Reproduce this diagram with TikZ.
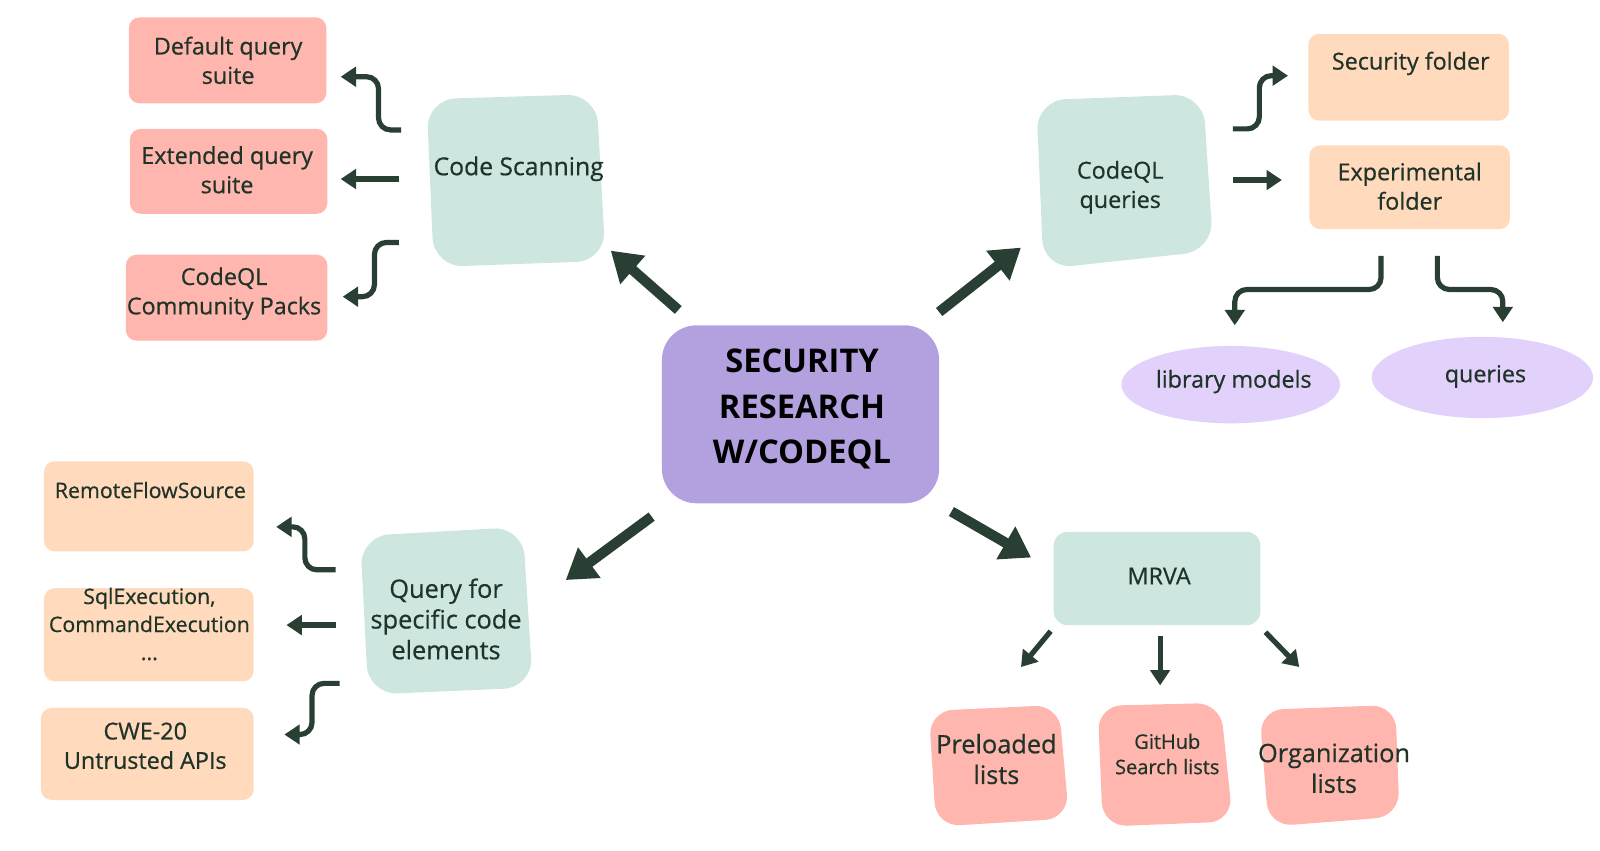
\documentclass[tikz,border=0pt]{standalone}
\usepackage{fontspec}
\setmainfont{Open Sans}
\newfontfamily\lblfont[FakeBold=0.6]{Open Sans}
\usetikzlibrary{arrows.meta,shapes.geometric,fit}
\definecolor{pinkc}{HTML}{FFB6AE}
\definecolor{peach}{HTML}{FFDABD}
\definecolor{mint}{HTML}{CDE6DF}
\definecolor{lav}{HTML}{B3A1DF}
\definecolor{lilac}{HTML}{E1D1FB}
\definecolor{ink}{HTML}{2A3F33}
\definecolor{txt}{HTML}{1F3328}
\tikzset{
  box/.style={inner sep=0pt, draw=none, rounded corners=8pt},
  pinkbox/.style={box, fill=pinkc},
  peachbox/.style={box, fill=peach},
  mintbox/.style={box, fill=mint, rounded corners=10pt},
  area/.style={inner sep=0pt, draw=none},
  centerbox/.style={box, fill=lav, rounded corners=26pt},
  oval/.style={ellipse, fill=lilac, inner sep=0pt},
  lbl/.style={text=txt, align=center, inner sep=0pt, font=\lblfont\fontsize{17.5}{22}\selectfont},
  biglbl/.style={text=black, align=center, inner sep=0pt, font=\bfseries\fontsize{24.5}{34}\selectfont},
  arr/.style={draw=ink, line width=3.9pt, rounded corners=9pt, -{Triangle[width=14.5pt,length=11.5pt]}},
  bigarr/.style={draw=ink, line width=7.7pt, -{Triangle[width=27pt,length=22pt]}},
}
\begin{document}
\begin{tikzpicture}[x=0.767pt,y=-0.767pt]
\useasboundingbox (0,0) rectangle (1564,831);
% irregular blobs
\fill[mint, rounded corners=22pt] (417,97) -- (583,92) -- (592,255) -- (424,261) -- cycle;
\fill[mint, rounded corners=22pt] (1013,98) -- (1176,92) -- (1186,245) -- (1020,263) -- cycle;
\fill[mint, rounded corners=22pt] (352,524) -- (511,515) -- (521,672) -- (360,679) -- cycle;
\fill[pinkc, rounded corners=18pt] (908,695) -- (1035,689) -- (1045,800) -- (915,808) -- cycle;
\fill[pinkc, rounded corners=18pt] (1073,690) -- (1193,687) -- (1205,803) -- (1078,808) -- cycle;
\fill[pinkc, rounded corners=18pt] (1231,694) -- (1364,689) -- (1368,798) -- (1240,808) -- cycle;
% shapes
\node[pinkbox, fit={(126,17)(319,101)}] (def) {};
\node[pinkbox, fit={(127,126)(320,209)}] (ext) {};
\node[pinkbox, fit={(123,249)(320,333)}] (com) {};
\node[area, fit={(417,93)(592,261)}] (cs) {};
\node[centerbox, fit={(647,318)(918,492)}] (ctr) {};
\node[area, fit={(1013,92)(1186,263)}] (cq) {};
\node[peachbox, fit={(1279,33)(1475,118)}] (sec) {};
\node[peachbox, fit={(1280,142)(1476,224)}] (exp) {};
\node[oval, minimum width=164pt, minimum height=58pt] (lib) at (1203,376) {};
\node[oval, minimum width=166pt, minimum height=61pt] (qry) at (1449,369) {};
\node[peachbox, fit={(43,451)(248,539)}] (rfs) {};
\node[peachbox, fit={(43,575)(248,666)}] (sql) {};
\node[peachbox, fit={(40,692)(248,782)}] (cwe) {};
\node[area, fit={(352,515)(521,679)}] (qsc) {};
\node[mintbox, fit={(1030,520)(1232,611)}] (mrva) {};
\node[area, fit={(908,690)(1045,808)}] (pre) {};
\node[area, fit={(1073,688)(1205,808)}] (gh) {};
\node[area, fit={(1231,690)(1368,808)}] (org) {};
% labels
\node[lbl] (tdef) at (223,59) {Default query\\suite};
\node[lbl] (text) at (222,166) {Extended query\\suite};
\node[lbl] (tcom) at (219,287) {CodeQL\\Community Packs};
\node[lbl, font=\lblfont\fontsize{18.5}{24}\selectfont] (tcs) at (507,165) {Code Scanning};
\node[biglbl] (tctr) at (784,400) {SECURITY\\RESEARCH\\W/CODEQL};
\node[lbl] (tcq) at (1095,183) {CodeQL\\queries};
\node[lbl] (tsec) at (1379,62) {Security folder};
\node[lbl] (texp) at (1378,182) {Experimental\\folder};
\node[lbl] (tlib) at (1206,373) {library models};
\node[lbl] (tqry) at (1452,368) {queries};
\node[lbl, font=\lblfont\fontsize{16}{21}\selectfont] (trfs) at (147,479) {RemoteFlowSource};
\node[lbl, font=\lblfont\fontsize{16}{21}\selectfont] (tsql) at (146,610) {SqlExecution,\\CommandExecution\\...};
\node[lbl] (tcwe) at (142,729) {CWE-20\\Untrusted APIs};
\node[lbl, font=\lblfont\fontsize{19}{23}\selectfont] (tqsc) at (436,605) {Query for\\specific code\\elements};
\node[lbl] (tmrva) at (1133,563) {MRVA};
\node[lbl, font=\lblfont\fontsize{19}{23}\selectfont] (tpre) at (974,742) {Preloaded\\lists};
\node[lbl, font=\lblfont\fontsize{15}{19}\selectfont] (tgh) at (1141,737) {GitHub\\Search lists};
\node[lbl, font=\lblfont\fontsize{19}{23}\selectfont] (torg) at (1304,751) {Organization\\lists};
% big arrows
\coordinate (n1) at (663,303); \coordinate (n2) at (597,245);
\coordinate (e1) at (918,305); \coordinate (e2) at (998,242);
\coordinate (s1) at (637,505); \coordinate (s2) at (553,567);
\coordinate (w1) at (930,500); \coordinate (w2) at (1008,545);
\draw[bigarr] (n1) -- (n2);
\draw[bigarr] (e1) -- (e2);
\draw[bigarr] (s1) -- (s2);
\draw[bigarr] (w1) -- (w2);
% small arrows
\coordinate (a1s) at (392,127); \coordinate (a1e) at (333,75);
\coordinate (a2s) at (390,175); \coordinate (a2e) at (333,175);
\coordinate (a3s) at (390,237); \coordinate (a3e) at (335,290);
\draw[arr] (a1s) -- (370,127) -- (370,75) -- (a1e);
\draw[arr] (a2s) -- (a2e);
\draw[arr] (a3s) -- (366,237) -- (366,290) -- (a3e);
\coordinate (b1s) at (1205,126); \coordinate (b1e) at (1259,74);
\coordinate (b2s) at (1205,176); \coordinate (b2e) at (1253,176);
\draw[arr] (b1s) -- (1231,126) -- (1231,74) -- (b1e);
\draw[arr] (b2s) -- (b2e);
\coordinate (c1s) at (1350,250); \coordinate (c1e) at (1207,318);
\coordinate (c2s) at (1405,250); \coordinate (c2e) at (1469,315);
\draw[arr] (c1s) -- (1350,283) -- (1207,283) -- (c1e);
\draw[arr] (c2s) -- (1405,283) -- (1469,283) -- (c2e);
\coordinate (d1s) at (328,557); \coordinate (d1e) at (270,515);
\coordinate (d2s) at (328,611); \coordinate (d2e) at (280,611);
\coordinate (d3s) at (332,668); \coordinate (d3e) at (278,718);
\draw[arr] (d1s) -- (298,557) -- (298,515) -- (d1e);
\draw[arr] (d2s) -- (d2e);
\draw[arr] (d3s) -- (305,668) -- (305,718) -- (d3e);
\coordinate (f1s) at (1027,617); \coordinate (f1e) at (998,652);
\coordinate (f2s) at (1134,622); \coordinate (f2e) at (1134,670);
\coordinate (f3s) at (1237,618); \coordinate (f3e) at (1270,652);
\draw[arr] (f1s) -- (f1e);
\draw[arr] (f2s) -- (f2e);
\draw[arr] (f3s) -- (f3e);
\end{tikzpicture}
\end{document}
